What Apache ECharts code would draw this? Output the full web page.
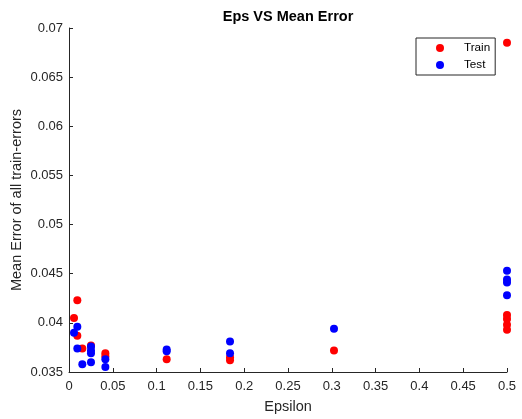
<!DOCTYPE html>
<html>
<head>
<meta charset="utf-8">
<script src="https://cdn.jsdelivr.net/npm/echarts@6/dist/echarts.min.js"></script>
<style>
  html, body { margin: 0; padding: 0; background: #fff; }
  #chart { width: 522px; height: 419px; }
</style>
</head>
<body>
<div id="chart"></div>
<script>
// Epsilon values and mean errors for the training runs
const trainEps = [0.0095, 0.0057, 0.0095, 0.0152, 0.0251, 0.0415, 0.0415, 0.1115, 0.1838, 0.1838, 0.3025, 0.5, 0.5, 0.5, 0.5, 0.5];
const trainErr = [0.0423, 0.0405, 0.0387, 0.0374, 0.0377, 0.0369, 0.0366, 0.0363, 0.0365, 0.0362, 0.0372, 0.0685, 0.0408, 0.0404, 0.0398, 0.0393];

// Epsilon values and mean errors for the test runs
const testEps = [0.0095, 0.0057, 0.0095, 0.0152, 0.0251, 0.0251, 0.0251, 0.0251, 0.0415, 0.0415, 0.1115, 0.1115, 0.1838, 0.1838, 0.3025, 0.5, 0.5, 0.5, 0.5];
const testErr = [0.0396, 0.0390, 0.0374, 0.0358, 0.0376, 0.0372, 0.0369, 0.0360, 0.0363, 0.0355, 0.0373, 0.0371, 0.0381, 0.0369, 0.0394, 0.0453, 0.0444, 0.0441, 0.0428];

// Axis ranges and tick spacing
const xTicks = { min: 0, max: 0.5, step: 0.05 };
const yTicks = { min: 0.035, max: 0.07, step: 0.005 };

const pair = (xs, ys) => xs.map((x, i) => [x, ys[i]]);
const tickText = v => String(parseFloat(v.toFixed(4)));
const ink = '#262626';
const font = 'Liberation Sans, Arial, sans-serif';

const chart = echarts.init(document.getElementById('chart'), null, { renderer: 'canvas' });
chart.setOption({
  animation: false,
  backgroundColor: '#fff',
  title: {
    text: 'Eps VS Mean Error',
    left: 288, top: 9, textAlign: 'center', padding: 0,
    textStyle: { fontFamily: font, fontSize: 14.5, fontWeight: 'bold', color: '#000', lineHeight: 16 }
  },
  legend: {
    orient: 'vertical',
    left: 416, top: 38,
    padding: [3, 5, 3, 20],
    itemGap: 3,
    itemWidth: 8, itemHeight: 8,
    backgroundColor: '#fff',
    borderColor: ink, borderWidth: 1, borderRadius: 0,
    textStyle: { fontFamily: font, fontSize: 11.7, color: '#000', lineHeight: 14, padding: [0, 0, 0, 15] },
    data: [{ name: 'Train', icon: 'circle' }, { name: 'Test', icon: 'circle' }]
  },
  grid: { left: 69, right: 15, top: 28, bottom: 47, containLabel: false, outerBoundsMode: 'none' },
  xAxis: {
    type: 'value',
    min: xTicks.min, max: xTicks.max, interval: xTicks.step,
    name: 'Epsilon', nameLocation: 'middle', nameGap: 27, nameMoveOverlap: false,
    nameTextStyle: { fontFamily: font, fontSize: 14.5, color: ink },
    axisLine: { lineStyle: { color: ink, width: 1 } },
    axisTick: { inside: true, length: 4, lineStyle: { color: ink, width: 1 } },
    axisLabel: { fontFamily: font, fontSize: 13, color: ink, margin: 8, formatter: tickText },
    splitLine: { show: false }
  },
  yAxis: {
    type: 'value',
    min: yTicks.min, max: yTicks.max, interval: yTicks.step,
    name: 'Mean Error of all train-errors', nameLocation: 'middle', nameGap: 45, nameMoveOverlap: false,
    nameTextStyle: { fontFamily: font, fontSize: 14.5, color: ink },
    axisLine: { lineStyle: { color: ink, width: 1 } },
    axisTick: { inside: true, length: 4, lineStyle: { color: ink, width: 1 } },
    axisLabel: { fontFamily: font, fontSize: 13, color: ink, margin: 6, formatter: tickText },
    splitLine: { show: false }
  },
  series: [
    {
      name: 'Train', type: 'scatter', symbol: 'circle', symbolSize: 8,
      itemStyle: { color: '#ff0000', opacity: 1 },
      data: pair(trainEps, trainErr), z: 2
    },
    {
      name: 'Test', type: 'scatter', symbol: 'circle', symbolSize: 8,
      itemStyle: { color: '#0000ff', opacity: 1 },
      data: pair(testEps, testErr), z: 3
    }
  ]
});
</script>
</body>
</html>
